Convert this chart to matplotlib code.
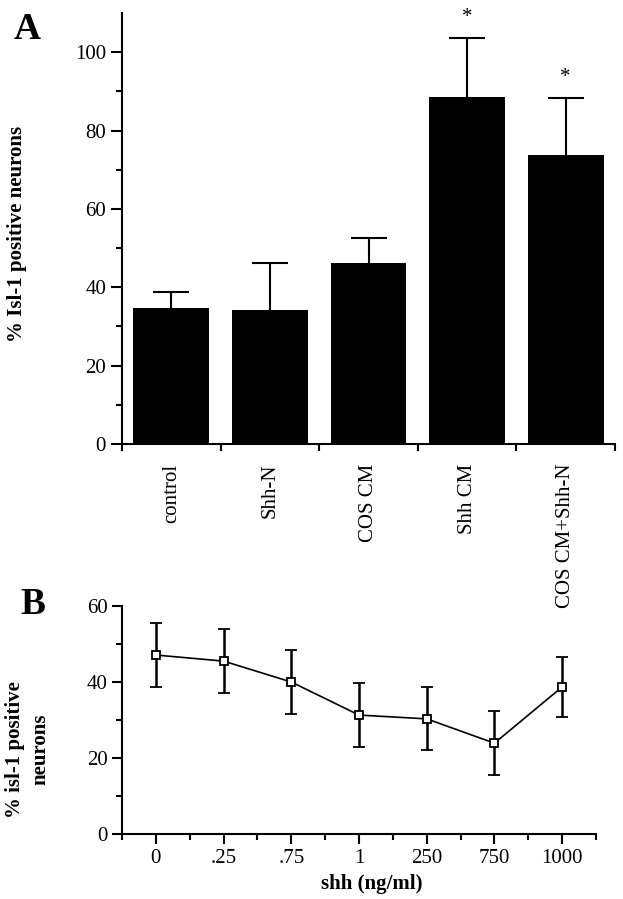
import numpy as np
import matplotlib.pyplot as plt

plt.rcParams['font.family'] = ['Liberation Serif', 'DejaVu Serif']

# panel A: % Isl-1 positive neurons per treatment
groups = ['control', 'Shh-N', 'COS CM', 'Shh CM', 'COS CM+Shh-N']
pct_isl1 = [34.8, 34.1, 46.3, 88.5, 73.7]
pct_err = [4.1, 12.1, 6.4, 15.1, 14.6]
signif = [False, False, False, True, True]

# panel B: dose response
doses = ['0', '.25', '.75', '1', '250', '750', '1000']
dose_pct = [47.1, 45.5, 40.0, 31.3, 30.3, 23.9, 38.7]
dose_err = [8.4, 8.4, 8.3, 8.4, 8.3, 8.4, 7.9]

W, H = 623, 899
fig = plt.figure(figsize=(W / 100, H / 100), dpi=100)

# ---- A ----
axA = fig.add_axes([122 / W, 1 - 444 / H, (615 - 122) / W, (444 - 13) / H])
x = np.arange(len(groups))
axA.bar(x, pct_isl1, width=0.77, color='black', linewidth=0)
eb = axA.errorbar(x, pct_isl1, yerr=[np.zeros(len(x)), pct_err], fmt='none',
                  ecolor='black', elinewidth=1.5, capsize=13, capthick=1.5)
eb[1][0].set_visible(False)  # no cap on the bar top
for xi, v, e, s in zip(x, pct_isl1, pct_err, signif):
    if s:
        axA.text(xi, v + e + 4.0, '*', ha='center', va='baseline',
                 fontsize=15, clip_on=False)

axA.set_xlim(-0.5, len(groups) - 0.5)
axA.set_ylim(0, 110)
axA.set_yticks([0, 20, 40, 60, 80, 100])
axA.set_yticks([10, 30, 50, 70, 90], minor=True)
axA.set_xticks(np.arange(-0.5, len(groups)), minor=True)
axA.set_xticks(x, groups, rotation=90)
axA.tick_params(axis='x', which='major', length=0, pad=14, labelsize=15)
axA.tick_params(axis='x', which='minor', length=5, width=1.5, direction='out')
axA.tick_params(axis='y', which='major', length=8, width=1.5, labelsize=15)
axA.tick_params(axis='y', which='minor', length=4, width=1.5)
axA.set_ylabel('% Isl-1 positive neurons', fontsize=15, fontweight='bold')
axA.yaxis.set_label_coords(-0.193, 0.487)
for sp in ['top', 'right']:
    axA.spines[sp].set_visible(False)
for sp in ['left', 'bottom']:
    axA.spines[sp].set_linewidth(1.5)

# ---- B ----
axB = fig.add_axes([122 / W, 1 - 834 / H, (596 - 122) / W, (834 - 606) / H])
axB.patch.set_visible(False)
xb = np.arange(len(doses))
axB.errorbar(xb, dose_pct, yerr=dose_err, color='black', lw=1.2,
             elinewidth=1.8, capsize=4.5, capthick=1.8,
             marker='s', ms=6, mfc='white', mec='black', mew=1.3)
axB.plot(xb, dose_pct, ls='none', marker='s', ms=1.5, color='black')

axB.set_xlim(-0.5, len(doses) - 0.5)
axB.set_ylim(0, 60)
axB.set_xticks(xb, doses)
axB.set_xticks(np.arange(-0.5, len(doses)), minor=True)
axB.set_yticks([0, 20, 40, 60])
axB.set_yticks([10, 30, 50], minor=True)
axB.tick_params(which='major', length=7, width=1.5, labelsize=15)
axB.tick_params(which='minor', length=4, width=1.5)
axB.set_xlabel('shh (ng/ml)', fontsize=15, fontweight='bold')
axB.xaxis.set_label_coords(0.527, -0.175)
axB.set_ylabel('% isl-1 positive\nneurons', fontsize=15, fontweight='bold',
               linespacing=1.3)
axB.yaxis.set_label_coords(-0.152, 0.37)
for sp in ['top', 'right']:
    axB.spines[sp].set_visible(False)
for sp in ['left', 'bottom']:
    axB.spines[sp].set_linewidth(1.5)

fig.text(14 / W, 1 - 12 / H, 'A', fontsize=27, fontweight='bold', va='top', ha='left')
fig.text(20 / W, 1 - 587 / H, 'B', fontsize=27, fontweight='bold', va='top', ha='left')

fig.savefig('out.png', dpi=100)
